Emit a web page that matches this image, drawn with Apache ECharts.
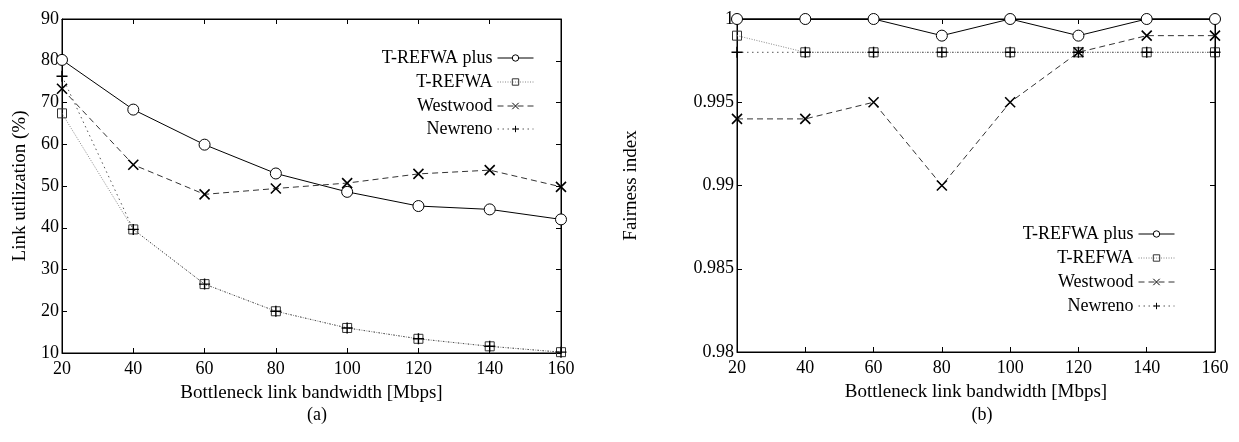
<!DOCTYPE html>
<html>
<head>
<meta charset="utf-8">
<script src="https://cdn.jsdelivr.net/npm/echarts@6/dist/echarts.min.js"></script>
<style>
  html, body { margin: 0; padding: 0; background: #fff; }
  #main { width: 1239px; height: 442px; }
</style>
</head>
<body>
<div id="main"></div>
<script>
// bottleneck bandwidth (Mbps)
var bandwidth = [20, 40, 60, 80, 100, 120, 140, 160];
var seriesNames = ['T-REFWA plus', 'T-REFWA', 'Westwood', 'Newreno'];

// (a) link utilization (%)
var utilPlus = [80.2, 68.3, 59.9, 53.0, 48.6, 45.2, 44.4, 42.0];
var utilRefwa = [67.4, 39.6, 26.5, 20.0, 16.0, 13.4, 11.6, 10.2];
var utilWestwood = [73.3, 55.1, 48.0, 49.4, 50.7, 52.9, 53.8, 49.8];
var utilNewreno = [76.3, 39.6, 26.5, 20.0, 16.0, 13.4, 11.6, 10.2];

// (b) fairness index
var fairPlus = [1.0, 1.0, 1.0, 0.999, 1.0, 0.999, 1.0, 1.0];
var fairRefwa = [0.999, 0.998, 0.998, 0.998, 0.998, 0.998, 0.998, 0.998];
var fairWestwood = [0.994, 0.994, 0.995, 0.990, 0.995, 0.998, 0.999, 0.999];
var fairNewreno = [0.998, 0.998, 0.998, 0.998, 0.998, 0.998, 0.998, 0.998];

var FONT = 'Liberation Serif';
var crossPath = 'path://M0,0L10,10M0,10L10,0';
var plusPath = 'path://M5,0L5,10M0,5L10,5';

var styles = {
  'T-REFWA plus': { symbol: 'circle', size: 11, line: { color: '#000', width: 1, type: 'solid' }, item: { color: '#fff', borderColor: '#000', borderWidth: 1 } },
  'T-REFWA': { symbol: 'rect', size: 9, line: { color: '#888', width: 1, type: [1, 1.5] }, item: { color: 'rgba(0,0,0,0)', borderColor: '#333', borderWidth: 1 } },
  'Westwood': { symbol: crossPath, size: 10, line: { color: '#333', width: 1, type: [6, 4] }, item: { color: 'rgba(0,0,0,0)', borderColor: '#000', borderWidth: 1.6 } },
  'Newreno': { symbol: plusPath, size: 11, line: { color: '#555', width: 1, type: [1.5, 3.5] }, item: { color: 'rgba(0,0,0,0)', borderColor: '#000', borderWidth: 1.4 } }
};

function pairs(vals) {
  return bandwidth.map(function (b, i) { return [b, vals[i]]; });
}

function makeSeries(name, vals, idx) {
  var s = styles[name];
  return {
    name: name, type: 'line', xAxisIndex: idx, yAxisIndex: idx,
    data: pairs(vals), symbol: s.symbol, symbolSize: s.size,
    showAllSymbol: true, animation: false, silent: true, clip: false,
    lineStyle: s.line, itemStyle: s.item
  };
}

var nameStyle = { color: '#000', fontFamily: FONT, fontSize: 19 };

function xAxisFor(idx, pos) {
  var main = pos === 'bottom';
  return {
    type: 'value', gridIndex: idx, position: pos, min: 20, max: 160, interval: 20,
    name: main ? 'Bottleneck link bandwidth [Mbps]' : '', nameLocation: 'middle', nameGap: 31,
    nameTextStyle: nameStyle,
    axisLine: { show: true, onZero: false, lineStyle: { color: '#000', width: 1 } },
    axisTick: { show: true, inside: true, length: 5, lineStyle: { color: '#000' } },
    axisLabel: { show: main, margin: 7, color: '#000', fontFamily: FONT, fontSize: 18 },
    splitLine: { show: false }
  };
}

function yAxisFor(idx, pos, min, max, interval, name, gap) {
  var main = pos === 'left';
  return {
    type: 'value', gridIndex: idx, position: pos, min: min, max: max, interval: interval,
    name: main ? name : '', nameLocation: 'middle', nameGap: gap, nameRotate: 90,
    nameTextStyle: nameStyle,
    axisLine: { show: true, onZero: false, lineStyle: { color: '#000', width: 1 } },
    axisTick: { show: true, inside: true, length: 5, lineStyle: { color: '#000' } },
    axisLabel: { show: main, margin: 3, color: '#000', fontFamily: FONT, fontSize: 18 },
    splitLine: { show: false }
  };
}

function legendItem(name, right, top) {
  return {
    data: [name], right: right, top: top, align: 'right', orient: 'horizontal',
    itemWidth: 36, itemHeight: 8, selectedMode: false, padding: 0,
    lineStyle: { width: 1 },
    itemStyle: { borderWidth: 1 },
    textStyle: { color: '#000', fontFamily: FONT, fontSize: 18 }
  };
}

var legendTopsA = [49, 73, 97, 120];
var legendTopsB = [225, 249, 273, 297];
var legends = [];
seriesNames.forEach(function (n, i) { legends.push(legendItem(n, 705, legendTopsA[i])); });
seriesNames.forEach(function (n, i) { legends.push(legendItem(n, 64, legendTopsB[i])); });

var chart = echarts.init(document.getElementById('main'), null, { renderer: 'canvas' });
chart.setOption({
  backgroundColor: '#fff',
  animation: false,
  title: [
    { text: '(a)', left: 312, top: 401, textAlign: 'center', textStyle: { color: '#000', fontFamily: FONT, fontSize: 18, fontWeight: 'normal' } },
    { text: '(b)', left: 977, top: 401, textAlign: 'center', textStyle: { color: '#000', fontFamily: FONT, fontSize: 18, fontWeight: 'normal' } }
  ],
  legend: legends,
  grid: [
    { left: 62, right: 1239 - 561, top: 19, bottom: 442 - 353, show: true, borderColor: '#000', borderWidth: 1, backgroundColor: 'rgba(0,0,0,0)' },
    { left: 737, right: 1239 - 1215, top: 19, bottom: 442 - 352, show: true, borderColor: '#000', borderWidth: 1, backgroundColor: 'rgba(0,0,0,0)' }
  ],
  xAxis: [xAxisFor(0, 'bottom'), xAxisFor(1, 'bottom'), xAxisFor(0, 'top'), xAxisFor(1, 'top')],
  yAxis: [
    yAxisFor(0, 'left', 10, 90, 10, 'Link utilization (%)', 32),
    yAxisFor(1, 'left', 0.98, 1, 0.005, 'Fairness index', 96),
    yAxisFor(0, 'right', 10, 90, 10, '', 0),
    yAxisFor(1, 'right', 0.98, 1, 0.005, '', 0)
  ],
  series: [
    makeSeries('T-REFWA plus', utilPlus, 0),
    makeSeries('T-REFWA', utilRefwa, 0),
    makeSeries('Westwood', utilWestwood, 0),
    makeSeries('Newreno', utilNewreno, 0),
    makeSeries('T-REFWA plus', fairPlus, 1),
    makeSeries('T-REFWA', fairRefwa, 1),
    makeSeries('Westwood', fairWestwood, 1),
    makeSeries('Newreno', fairNewreno, 1)
  ]
});
</script>
</body>
</html>
